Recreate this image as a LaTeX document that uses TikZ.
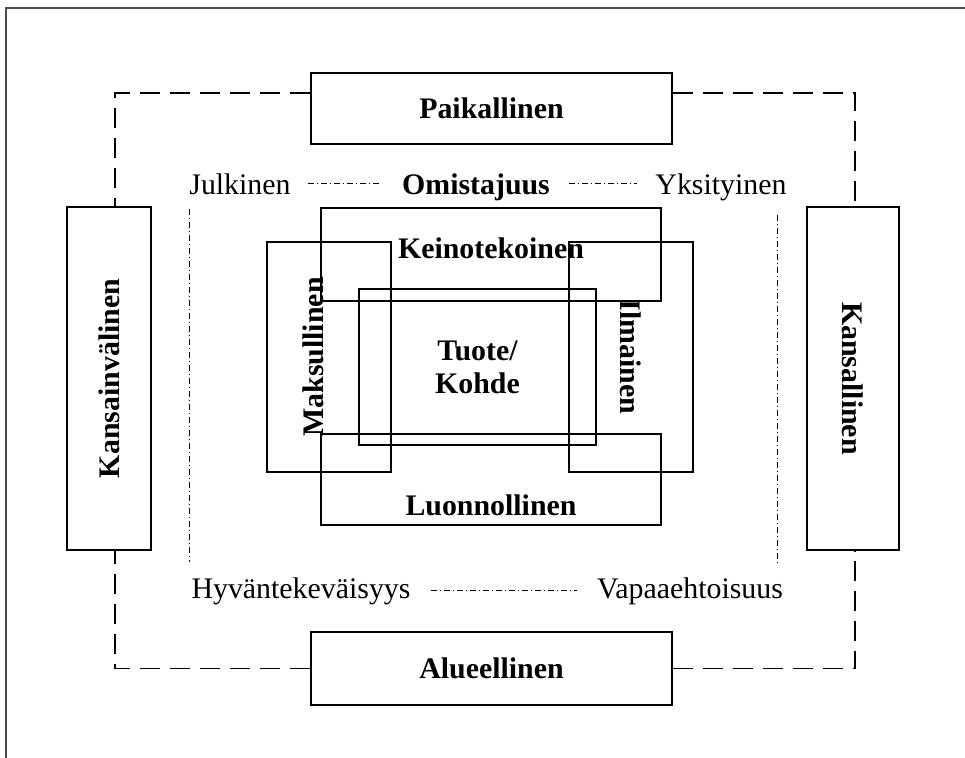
\documentclass[tikz,border=0pt]{standalone}
\usepackage{fontspec}
\usepackage{graphicx}
\setmainfont{Liberation Serif}
\usetikzlibrary{positioning, calc}

\begin{document}
\begin{tikzpicture} [
        x=0.02cm, y=-0.02cm,
        every node/.style={font=\fontsize{17}{19}\selectfont},
        frame/.style={draw=black!70, line width=1pt},
        box/.style={draw, line width=0.9pt, inner sep=0pt, font=\fontsize{17}{19}\selectfont\bfseries},
        wide box/.style={box, minimum width=7.22cm},
        tall box/.style={box, minimum height=6.86cm},
        inner wide/.style={box, minimum width=6.8cm},
        inner tall/.style={box, minimum width=2.48cm, minimum height=4.6cm},
        tag/.style={inner sep=0pt},
        bold tag/.style={tag, font=\fontsize{17}{19}\selectfont\bfseries},
        area link/.style={line width=1.1pt, dash pattern=on 0.4cm off 0.2cm},
        pair link/.style={line width=0.6pt, dash pattern=on 0.12cm off 0.06cm on 0.02cm off 0.06cm}
    ]

    \useasboundingbox (0,0) rectangle (965,758);
    \draw[frame] (6,758) -- (6,8) -- (965,8);

    % outer ring
    \node[wide box, minimum height=1.42cm] (paik) at (491.5,108.5) {Paikallinen};
    \node[wide box, minimum height=1.46cm] (alue) at (491.5,668.5) {Alueellinen};
    \node[tall box, minimum width=1.68cm] (kvl) at (109,378.5) {\rotatebox{90}{Kansainvälinen}};
    \node[tall box, minimum width=1.84cm] (kl) at (853,378.5) {\rotatebox{-90}{Kansallinen}};

    \coordinate (ctl) at (115,93);
    \coordinate (ctr) at (855,93);
    \coordinate (cbl) at (ctl |- alue.west);
    \coordinate (cbr) at (ctr |- alue.east);

    \draw[area link] (paik.west |- ctl) -- (ctl) -- (ctl |- kvl.north);
    \draw[area link] (paik.east |- ctr) -- (ctr) -- (ctr |- kl.north);
    \draw[area link] (alue.west) -- (cbl) -- (ctl |- kvl.south);
    \draw[area link] (alue.east) -- (cbr) -- (ctr |- kl.south);

    % ownership ring
    \node[tag, anchor=base] (julk) at (240,194) {Julkinen};
    \node[bold tag, anchor=base] (omis) at (476,194) {Omistajuus};
    \node[tag, anchor=base] (yks) at (721,194) {Yksityinen};
    \node[tag, anchor=base] (hyva) at (301,598) {Hyväntekeväisyys};
    \node[tag, anchor=base] (vapa) at (690,598) {Vapaaehtoisuus};

    \draw[pair link, shorten <=0.34cm, shorten >=0.4cm] (julk.east) -- (julk.east -| omis.west);
    \draw[pair link, shorten <=0.38cm, shorten >=0.36cm] (omis.east |- julk.east) -- (yks.west |- julk.east);
    \draw[pair link, shorten <=0.4cm, shorten >=0.4cm] (hyva.east) -- (hyva.east -| vapa.west);
    \draw[pair link, shorten <=0.28cm, shorten >=0.3cm] (julk.south west) -- (julk.south west |- hyva.north);
    \draw[pair link, shorten <=0.28cm, shorten >=0.3cm] ([xshift=-0.18cm]yks.south east) -- ([xshift=-0.18cm]yks.south east |- vapa.north);

    % inner boxes
    \node[inner wide, minimum height=1.86cm] (kein) at (491,254.5) {};
    \node[bold tag, below=0.6cm of kein.north] (kein text) {Keinotekoinen};
    \node[inner wide, minimum height=1.82cm] (luon) at (491,479.5) {};
    \node[bold tag, above=0.2cm of luon.south] (luon text) {Luonnollinen};
    \node[inner tall] (maks) at (329,357) {};
    \node[bold tag, rotate=90] (maks text) at ([xshift=-0.32cm]maks.center) {Maksullinen};
    \node[inner tall] (ilm) at (631,357) {\rotatebox{-90}{Ilmainen}};
    \node[box, minimum width=4.74cm, minimum height=3.12cm, align=center] (tuote) at (477.5,367) {Tuote/\\Kohde};

\end{tikzpicture}
\end{document}
